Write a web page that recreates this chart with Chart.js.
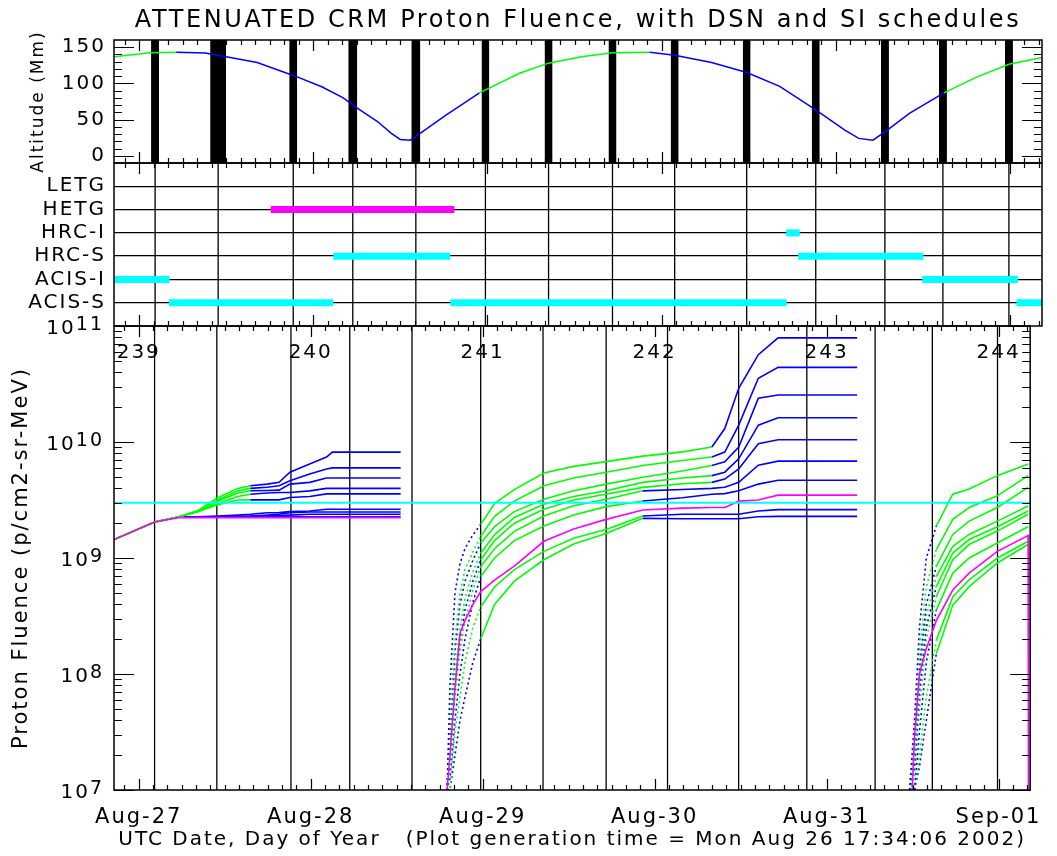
<!DOCTYPE html>
<html>
<head>
<meta charset="utf-8">
<title>ATTENUATED CRM Proton Fluence</title>
<script src="https://cdn.jsdelivr.net/npm/chart.js@4/dist/chart.umd.min.js"></script>
<style>
    body { margin: 0; background: #ffffff; }
    #wrap { position: relative; width: 1057px; height: 856px; }
    canvas { position: absolute; left: 0; }
    #topPanel { top: 0; }
    #siPanel { top: 150px; }
    #fluPanel { top: 290px; }
</style>
</head>
<body>
<div id="wrap">
    <canvas id="topPanel" width="1057" height="190"></canvas>
    <canvas id="siPanel" width="1057" height="190"></canvas>
    <canvas id="fluPanel" width="1057" height="566"></canvas>
</div>
<script>
// time axis, day of year 2002
const X_MIN = 238.856, X_MAX = 244.184;

const chartTitle = 'ATTENUATED CRM Proton Fluence, with DSN and SI schedules';

// DSN contacts
const dsnStart = [239.069, 239.408, 239.862, 240.201, 240.563, 240.966, 241.328, 241.695, 242.052, 242.466, 242.862, 243.259, 243.592, 243.971];
const dsnEnd   = [239.115, 239.500, 239.908, 240.253, 240.615, 241.011, 241.374, 241.741, 242.098, 242.511, 242.908, 243.305, 243.638, 244.017];

// altitude (Mm)
const altDays = [238.856, 239.0, 239.063, 239.213, 239.379, 239.5, 239.678, 239.897, 240.052, 240.172, 240.253, 240.371, 240.448, 240.5, 240.557, 240.626, 240.764, 240.868, 240.954,
                 241.184, 241.351, 241.540, 241.718, 241.931, 242.075, 242.287, 242.489, 242.678, 242.885, 243.052, 243.132, 243.213, 243.282, 243.425, 243.621, 243.802, 243.994, 244.184];
const altMm   = [137, 140.5, 142.5, 143, 142, 137, 129, 110, 95, 80, 66, 47, 31, 22.5, 21.5, 33, 56.5, 73, 87,
                 114, 128, 137, 142.5, 143, 139, 129, 115, 96, 63.5, 35.5, 24, 21.5, 33, 59, 87, 108, 126.5, 136];
const altTickValues = [0, 50, 100, 150];

// SI schedule
const siNames = ['LETG', 'HETG', 'HRC-I', 'HRC-S', 'ACIS-I', 'ACIS-S'];
const letgSpans = [];
const hetgSpans = [[239.756, 240.810]];
const hrcISpans = [[242.716, 242.793]];
const hrcSSpans = [[240.115, 240.787], [242.784, 243.503]];
const acisISpans = [[238.856, 239.175], [243.496, 244.046]];
const acisSSpans = [[239.172, 240.115], [240.787, 242.718], [244.038, 244.184]];

// proton fluence, log10 values per pass
const seg1Days = [238.856, 239.092, 239.230, 239.345, 239.460, 239.575, 239.649, 239.747, 239.816, 239.879, 239.994, 240.092, 240.126, 240.523];
const seg2Days = [240.793, 240.810, 240.839, 240.868, 240.897, 240.943, 240.989, 241.069, 241.184, 241.356, 241.529, 241.718, 241.931, 242.161, 242.333, 242.408, 242.489, 242.603, 242.718, 243.178];
const seg3Days = [243.483, 243.511, 243.540, 243.580, 243.638, 243.734, 243.829, 243.993, 244.172, 244.175];

const logC1 = [[9.159, 9.31, 9.353, 9.41, 9.52, 9.60, 9.623, 9.637, 9.652, 9.739, 9.811, 9.87, 9.913, 9.913],
               [7.0, 7.9, 8.7, 8.95, 9.08, 9.2, 9.29, 9.47, 9.59, 9.733, 9.79, 9.831, 9.878, 9.915, 9.957, 10.116, 10.463, 10.753, 10.898, 10.898],
               [7.0, 7.6, 8.4, 9.0, 9.275, 9.55, 9.594, 9.71, 9.811, 9.811]];
const logC2 = [[9.159, 9.31, 9.353, 9.405, 9.50, 9.58, 9.60, 9.61, 9.623, 9.666, 9.724, 9.768, 9.777, 9.777],
               [7.0, 7.6, 8.3, 8.7, 8.9, 9.05, 9.188, 9.36, 9.49, 9.623, 9.69, 9.739, 9.797, 9.84, 9.87, 9.913, 10.145, 10.55, 10.643, 10.643],
               [7.0, 7.5, 8.2, 8.75, 9.072, 9.333, 9.435, 9.536, 9.71, 9.71]];
const logC3 = [[9.159, 9.31, 9.353, 9.40, 9.49, 9.56, 9.58, 9.582, 9.585, 9.637, 9.652, 9.69, 9.69, 9.69],
               [7.0, 7.5, 8.2, 8.6, 8.8, 8.98, 9.13, 9.27, 9.40, 9.507, 9.58, 9.637, 9.696, 9.75, 9.797, 9.83, 9.957, 10.377, 10.405, 10.405],
               [7.0, 7.4, 8.05, 8.6, 8.927, 9.203, 9.318, 9.435, 9.609, 9.609]];
const logC4 = [[9.159, 9.31, 9.353, 9.40, 9.47, 9.53, 9.55, 9.56, 9.565, 9.565, 9.579, 9.60, 9.60, 9.60],
               [7.0, 7.4, 8.0, 8.4, 8.65, 8.88, 9.043, 9.2, 9.35, 9.463, 9.53, 9.579, 9.652, 9.69, 9.71, 9.74, 9.855, 10.145, 10.209, 10.209],
               [7.0, 7.3, 7.95, 8.5, 8.84, 9.101, 9.203, 9.318, 9.449, 9.449]];
const logC5 = [[9.159, 9.31, 9.353, 9.40, 9.46, 9.50, 9.501, 9.501, 9.501, 9.521, 9.53, 9.553, 9.553, 9.553],
               [7.0, 7.3, 7.9, 8.3, 8.55, 8.8, 8.985, 9.15, 9.3, 9.42, 9.50, 9.55, 9.609, 9.64, 9.652, 9.68, 9.768, 9.985, 10.02, 10.02],
               [7.0, 7.2, 7.85, 8.4, 8.753, 9.043, 9.159, 9.27, 9.405, 9.405]];
const logC6 = [[9.159, 9.31, 9.353, 9.356, 9.362, 9.37, 9.377, 9.39, 9.391, 9.40, 9.405, 9.42, 9.42, 9.42],
               [7.0, 7.2, 7.8, 8.2, 8.45, 8.72, 8.927, 9.08, 9.23, 9.362, 9.45, 9.507, 9.579, 9.59, 9.60, 9.61, 9.652, 9.80, 9.835, 9.835],
               [7.0, 7.1, 7.7, 8.3, 8.666, 8.985, 9.116, 9.232, 9.377, 9.377]];
const logC7 = [[9.159, 9.31, 9.353, 9.353, 9.356, 9.36, 9.362, 9.37, 9.377, 9.39, 9.397, 9.397, 9.397, 9.397],
               [7.0, 7.1, 7.6, 8.0, 8.3, 8.62, 8.84, 9.0, 9.15, 9.275, 9.37, 9.443, 9.492, 9.52, 9.55, 9.555, 9.579, 9.637, 9.670, 9.670],
               [7.0, 7.0, 7.5, 8.1, 8.55, 8.87, 9.0, 9.13, 9.27, 9.27]];
const logC8 = [[9.159, 9.31, 9.353, 9.353, 9.353, 9.356, 9.36, 9.362, 9.365, 9.37, 9.377, 9.377, 9.377, 9.377],
               [7.0, 7.0, 7.5, 7.8, 8.1, 8.4, 8.58, 8.75, 8.9, 9.057, 9.17, 9.246, 9.362, 9.377, 9.377, 9.377, 9.377, 9.405, 9.417, 9.417],
               [7.0, 7.0, 7.3, 7.8, 8.29, 8.666, 8.811, 9.0, 9.144, 9.144]];
const logC9 = [[9.159, 9.31, 9.353, 9.353, 9.353, 9.353, 9.354, 9.355, 9.356, 9.356, 9.356, 9.356, 9.356, 9.356],
               [7.0, 7.0, 7.3, 7.6, 7.8, 8.1, 8.304, 8.6, 8.8, 8.985, 9.12, 9.211, 9.342, 9.339, 9.339, 9.339, 9.339, 9.356, 9.359, 9.359],
               [7.0, 7.0, 7.2, 7.6, 8.174, 8.594, 8.753, 8.957, 9.116, 9.116]];
const logMagenta = [[9.159, 9.31, 9.348, 9.348, 9.348, 9.348, 9.348, 9.348, 9.348, 9.348, 9.348, 9.348, 9.348, 9.348],
                    [7.0, 7.3, 7.88, 8.35, 8.46, 8.6, 8.71, 8.81, 8.93, 9.144, 9.25, 9.333, 9.414, 9.43, 9.435, 9.435, 9.49, 9.50, 9.542, 9.542],
                    [6.5, 7.45, 8.0, 8.22, 8.46, 8.724, 8.87, 9.057, 9.194, 6.0]];
const curves = [logC1, logC2, logC3, logC4, logC5, logC6, logC7, logC8, logC9];
const fluenceLimit = 3.0e9;

const dateTickDays = [239, 240, 241, 242, 243, 244];
const dateLabels = ['Aug-27', 'Aug-28', 'Aug-29', 'Aug-30', 'Aug-31', 'Sep-01'];
const doyLabels = ['239', '240', '241', '242', '243', '244'];
const decades = [7, 8, 9, 10, 11];

const FONT = 'DejaVu Sans';
const GREEN = '#00ff00', BLUE = '#0000ff', MAGENTA = '#ff00ff', CYAN = '#00ffff';
Chart.defaults.font.family = FONT;
Chart.defaults.color = '#000';

// colour windows (green while outside the belts)
function altColour(x) {
    return (x < 239.213 || (x >= 240.954 && x < 241.931) || x >= 243.621) ? GREEN : BLUE;
}
const seg2GreenEnd = [242.333, 242.333, 242.333, 242.2, 242.2, 241.931, 241.931, 241.931, 241.931];
function isEarly(x) {
    return (x > 240.7 && x < 240.989) || (x > 243.4 && x < 243.638);
}
function curveColour(k, x) {
    if (x < 240.6) return x < (k < 5 ? 239.649 : 239.23) ? GREEN : BLUE;
    if (isEarly(x)) return k % 2 ? GREEN : BLUE;
    if (x < 243.3) return x < seg2GreenEnd[k] ? GREEN : BLUE;
    return GREEN;
}

function fluencePoints(log) {
    const pts = [];
    [seg1Days, seg2Days, seg3Days].forEach((days, s) => {
        if (s) pts.push({ x: days[0] - 0.01, y: null });
        days.forEach((d, i) => pts.push({ x: d, y: 10 ** log[s][i] }));
    });
    return pts;
}

function dsnLines(lo, hi) {
    const pts = [];
    dsnStart.forEach((s, i) => {
        const t = (s + dsnEnd[i]) / 2;
        pts.push({ x: t, y: lo }, { x: t, y: hi }, { x: t, y: null });
    });
    return { data: pts, borderColor: '#000', borderWidth: 1.3 };
}

function spanLine(spans, row, colour) {
    const pts = [];
    spans.forEach(([s, e]) => pts.push({ x: s, y: row }, { x: e, y: row }, { x: e, y: null }));
    return { data: pts, borderColor: colour, borderWidth: 7, borderCapStyle: 'butt' };
}

// canvas letter spacing, the original font is wide
const spacing = {
    id: 'spacing',
    beforeLayout(c) { c.ctx.letterSpacing = '2px'; },
    beforeDraw(c) { c.ctx.letterSpacing = '2px'; }
};

// box with inward ticks
const frame = {
    id: 'frame',
    afterDatasetsDraw(chart, args, o) {
        const { ctx, chartArea: a, scales: { x, y } } = chart;
        ctx.save();
        ctx.strokeStyle = '#000';
        ctx.lineWidth = 1.2;
        ctx.beginPath();
        for (let i = Math.ceil(X_MIN * 12); i <= X_MAX * 12; i++) {
            const px = Math.round(x.getPixelForValue(i / 12)) + 0.5;
            const len = i % 12 === 0 ? 11 : 5;
            ctx.moveTo(px, a.top); ctx.lineTo(px, a.top + len);
            ctx.moveTo(px, a.bottom); ctx.lineTo(px, a.bottom - len);
        }
        (o.yTicks || []).forEach(([v, major]) => {
            const py = Math.round(y.getPixelForValue(v)) + 0.5;
            const len = major ? 20 : 8;
            ctx.moveTo(a.left, py); ctx.lineTo(a.left + len, py);
            ctx.moveTo(a.right, py); ctx.lineTo(a.right - len, py);
        });
        ctx.stroke();
        ctx.lineWidth = 1.5;
        ctx.strokeRect(a.left, a.top, a.width, a.height);
        if (o.title) {
            ctx.letterSpacing = '2.6px';
            ctx.fillStyle = '#000';
            ctx.font = '24px ' + FONT;
            ctx.textAlign = 'center';
            ctx.textBaseline = 'alphabetic';
            ctx.fillText(o.title, (a.left + a.right) / 2, 27);
        }
        ctx.restore();
    }
};

// day of year labels inside the box and 10^n labels
const fluLabels = {
    id: 'fluLabels',
    afterDraw(chart) {
        const { ctx, chartArea: a, scales: { x, y } } = chart;
        ctx.save();
        ctx.letterSpacing = '2px';
        ctx.fillStyle = '#000';
        ctx.font = '20px ' + FONT;
        ctx.textAlign = 'center';
        ctx.textBaseline = 'alphabetic';
        doyLabels.forEach((t, i) => ctx.fillText(t, x.getPixelForValue(dateTickDays[i]), a.top + 32));
        ctx.textAlign = 'right';
        decades.forEach(e => {
            const py = y.getPixelForValue(10 ** e);
            ctx.font = '19px ' + FONT;
            const w = ctx.measureText(String(e)).width;
            ctx.fillText(String(e), a.left - 10, py + 4);
            ctx.font = '20px ' + FONT;
            ctx.fillText('10', a.left - 10 - w, py + 8);
        });
        ctx.restore();
    }
};

const altTicks = [];
for (let v = 0; v <= 150; v += 10) altTicks.push([v, v % 50 === 0]);
const logTicks = [];
decades.forEach(e => { for (let k = 1; k <= (e < 11 ? 9 : 1); k++) logTicks.push([k * 10 ** e, k === 1]); });

const common = {
    responsive: false,
    animation: false,
    events: [],
    elements: { point: { radius: 0 }, line: { tension: 0 } },
};
const xAxis = { type: 'linear', min: X_MIN, max: X_MAX, display: false };
// fixed axis box so the three plot areas line up
const yWidth = s => { s.width = 114; s.paddingTop = 0; s.paddingBottom = 0; };

new Chart(document.getElementById('topPanel'), {
    type: 'line',
    data: {
        datasets: [
            { data: altDays.map((d, i) => ({ x: d, y: altMm[i] })), borderColor: BLUE, borderWidth: 1.5, clip: 0,
              segment: { borderColor: c => altColour(c.p0.parsed.x) } },
            ...dsnStart.map((s, i) => ({
                data: [{ x: s, y: 160 }, { x: dsnEnd[i], y: 160 }],
                fill: 'start', backgroundColor: '#000', borderWidth: 0, clip: 0
            }))
        ]
    },
    options: {
        ...common,
        layout: { padding: { top: 40, right: 15, bottom: 27, left: 0 } },
        plugins: {
            legend: { display: false }, tooltip: { enabled: false },
            frame: { yTicks: altTicks, title: chartTitle }
        },
        scales: {
            x: xAxis,
            y: {
                min: -10, max: 160, afterFit: yWidth,
                afterBuildTicks: s => { s.ticks = altTickValues.map(v => ({ value: v })); },
                grid: { display: false, drawTicks: false }, border: { display: false },
                ticks: { padding: 8, font: { size: 20 } },
                title: { display: true, text: 'Altitude (Mm)', font: { size: 17 }, padding: { top: 28 } }
            }
        }
    },
    plugins: [spacing, frame]
});

new Chart(document.getElementById('siPanel'), {
    type: 'line',
    data: {
        datasets: [
            spanLine(letgSpans, 6, MAGENTA),
            spanLine(hetgSpans, 5, MAGENTA),
            spanLine(hrcISpans, 4, CYAN),
            spanLine(hrcSSpans, 3, CYAN),
            spanLine(acisISpans, 2, CYAN),
            spanLine(acisSSpans, 1, CYAN),
            dsnLines(0, 7)
        ]
    },
    options: {
        ...common,
        layout: { padding: { top: 13, right: 15, bottom: 14, left: 0 } },
        plugins: { legend: { display: false }, tooltip: { enabled: false }, frame: {} },
        scales: {
            x: xAxis,
            y: {
                min: 0, max: 7, afterFit: yWidth,
                afterBuildTicks: s => { s.ticks = [1, 2, 3, 4, 5, 6].map(v => ({ value: v })); },
                grid: { color: '#000', lineWidth: 1.3, drawTicks: false }, border: { display: false },
                ticks: { padding: 8, font: { size: 20 }, callback: v => siNames[6 - v] }
            }
        }
    },
    plugins: [spacing, frame]
});

new Chart(document.getElementById('fluPanel'), {
    type: 'line',
    data: {
        datasets: [
            { data: [{ x: X_MIN, y: fluenceLimit }, { x: X_MAX, y: fluenceLimit }], borderColor: CYAN, borderWidth: 2, clip: 0 },
            { data: fluencePoints(logMagenta), borderColor: MAGENTA, borderWidth: 1.6, clip: 0 },
            ...curves.map((log, k) => ({
                data: fluencePoints(log), borderColor: BLUE, borderWidth: 1.6, clip: 0,
                segment: {
                    borderColor: c => curveColour(k, c.p0.parsed.x),
                    borderDash: c => isEarly(c.p0.parsed.x) ? [2, 3] : undefined
                }
            })),
            { ...dsnLines(1e7, 1e11), clip: 0 }
        ]
    },
    options: {
        ...common,
        layout: { padding: { top: 36, right: 15, bottom: 0, left: 0 } },
        plugins: { legend: { display: false }, tooltip: { enabled: false }, frame: { yTicks: logTicks } },
        scales: {
            x: {
                type: 'linear', min: X_MIN, max: X_MAX,
                afterFit: s => { s.height = 66; },
                afterBuildTicks: s => { s.ticks = dateTickDays.map(v => ({ value: v })); },
                grid: { display: false, drawTicks: false }, border: { display: false },
                ticks: { padding: 15, font: { size: 21 }, maxRotation: 0, autoSkip: false,
                         callback: (v, i) => dateLabels[i] },
                title: { display: true, text: 'UTC Date, Day of Year   (Plot generation time = Mon Aug 26 17:34:06 2002)',
                         font: { size: 20 }, padding: { top: 6 } }
            },
            y: {
                type: 'logarithmic', min: 1e7, max: 1e11, afterFit: yWidth,
                grid: { display: false, drawTicks: false }, border: { display: false },
                ticks: { display: false },
                title: { display: true, text: 'Proton Fluence (p/cm2-sr-MeV)', font: { size: 21 }, padding: { top: 9 } }
            }
        }
    },
    plugins: [spacing, frame, fluLabels]
});
</script>
</body>
</html>
